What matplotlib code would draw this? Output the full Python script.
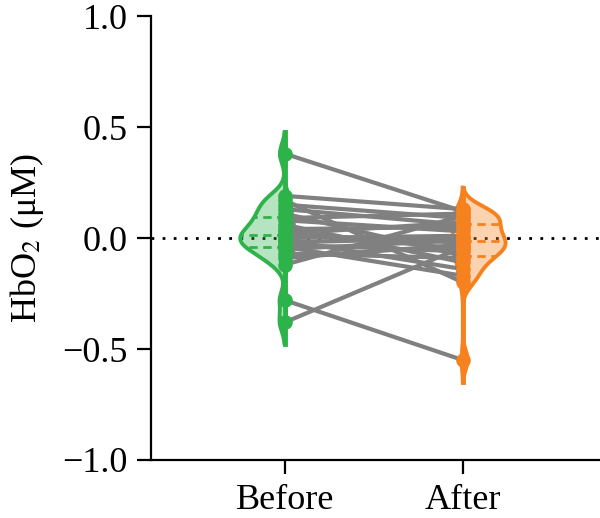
import numpy as np
import matplotlib.pyplot as plt

# paired measurements (one line per subject)
groups = ["Before", "After"]
before = [0.38, 0.19, 0.17, 0.15, 0.13, 0.11, 0.09, 0.08, 0.06, 0.04, 0.03, 0.02,
          0.01, 0.00, -0.01, -0.02, -0.03, -0.04, -0.05, -0.07, -0.09, -0.12, -0.28, -0.38]
after = [0.12, 0.13, -0.20, 0.09, 0.06, -0.08, 0.11, 0.03, -0.11, 0.05, -0.05, 0.07,
         -0.02, 0.01, -0.14, 0.00, -0.06, -0.17, -0.01, -0.09, -0.03, 0.10, -0.55, -0.04]
colors = ["#2eb34b", "#f5821f"]
yticks = [-1.0, -0.5, 0.0, 0.5, 1.0]

plt.rcParams["font.family"] = ["Liberation Serif", "DejaVu Serif"]
plt.rcParams["mathtext.fontset"] = "stix"

fig = plt.figure(figsize=(6.0, 5.18), dpi=100)
ax = fig.add_axes([0.252, 0.112, 0.748, 0.857])


def kde(vals, grid, bw):
    vals = np.asarray(vals)
    d = (grid[:, None] - vals[None, :]) / bw
    return np.exp(-0.5 * d ** 2).sum(axis=1) / (len(vals) * bw * np.sqrt(2 * np.pi))


bw = 0.042
dens = []
for vals in (before, after):
    grid = np.linspace(min(vals) - 2.3 * bw, max(vals) + 2.3 * bw, 300)
    dens.append((grid, kde(vals, grid, bw)))
scale = 0.25 / max(d.max() for g, d in dens)

for i, (vals, col) in enumerate(zip((before, after), colors)):
    xc = i + 1
    side = -1 if i == 0 else 1
    grid, d = dens[i]
    w = d * scale * side
    xs = np.concatenate([[xc], xc + w, [xc]])
    ys = np.concatenate([[grid[0]], grid, [grid[-1]]])
    ax.fill(xs, ys, color=col, alpha=0.35, lw=0, zorder=1)
    ax.plot(xs, ys, color=col, lw=2.8, zorder=2, solid_joinstyle="round")
    # thin tail on the other side too, around the centre line
    ax.plot(xc - w * 0.25, grid, color=col, lw=2.8, zorder=2)
    ax.plot([xc, xc], [grid[0], grid[-1]], color=col, lw=3.5, zorder=2)
    for q in np.percentile(vals, [25, 50, 75]):
        wq = np.interp(q, grid, d) * scale * side
        ax.plot([xc, xc + wq], [q, q], color=col, lw=2.0, ls=(0, (3, 2)), zorder=2)

for b, a in zip(before, after):
    ax.plot([1, 2], [b, a], color="#808080", lw=3.0, zorder=3, solid_capstyle="round")

ax.plot([1] * len(before), before, "o", color=colors[0], ms=9.5, zorder=4)
ax.plot([2] * len(after), after, "o", color=colors[1], ms=9.5, zorder=4)

ax.axhline(0, color="black", lw=2.0, ls=(0, (1, 3)), zorder=0)

ax.set_xlim(0.25, 2.77)
ax.set_ylim(-1.0, 1.0)
ax.set_yticks(yticks)
ax.set_yticklabels(["\u22121.0", "\u22120.5", "0.0", "0.5", "1.0"])
ax.set_xticks([1, 2])
ax.set_xticklabels(groups)
ax.set_ylabel("HbO$_2$ (\u03bcM)", fontsize=26, labelpad=12)
ax.tick_params(labelsize=26, width=1.6, length=10, pad=7)
for s in ["top", "right"]:
    ax.spines[s].set_visible(False)
for s in ["left", "bottom"]:
    ax.spines[s].set_linewidth(1.6)

fig.savefig("out.png", dpi=100)
